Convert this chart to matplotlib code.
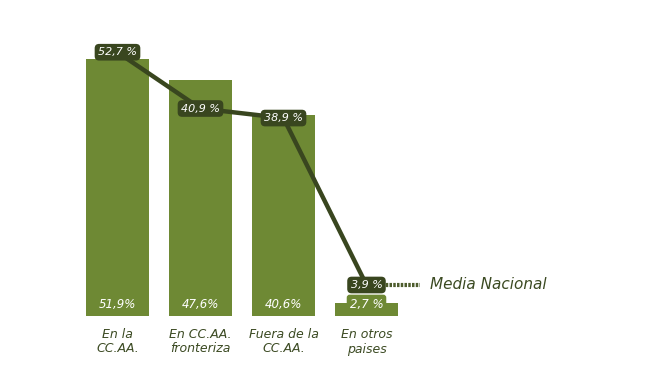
import matplotlib
matplotlib.use("Agg")
import matplotlib.pyplot as plt

categories = ["En la\nCC.AA.", "En CC.AA.\nfronteriza", "Fuera de la\nCC.AA.", "En otros\npaises"]
bar_values = [51.9, 47.6, 40.6, 2.7]
bar_labels = ["51,9%", "47,6%", "40,6%", "2,7 %"]
line_values = [52.7, 40.9, 38.9, 3.9]
line_labels = ["52,7 %", "40,9 %", "38,9 %", "3,9 %"]
line_name = "Media Nacional"

BAR_COLOR = "#6e8934"
DARK = "#39461f"
TEXT = "#3b4a22"

fig = plt.figure(figsize=(6.6, 3.68), dpi=100)
ax = fig.add_axes([0, 0, 1, 1])
px_x = 83.0
px_y = 4.95
xlim = (-117.5 / px_x, (660 - 117.5) / px_x)
ax.set_xlim(*xlim)
ax.set_ylim(-52 / px_y, (368 - 52) / px_y)
ax.axis("off")

# the average line sits on its own scale, slightly raised above the bars
ax2 = fig.add_axes([0, 0, 1, 1], sharex=ax)
line_px = 4.77
line_base = 64.4
ax2.set_ylim(-line_base / line_px, (368 - line_base) / line_px)
ax2.axis("off")
ax2.patch.set_visible(False)

x = list(range(len(categories)))
ax.bar(x, bar_values, width=0.76, color=BAR_COLOR, zorder=1)

# bar value labels at the bottom of each bar
for xi, lab in zip(x, bar_labels):
    ax.text(xi, 2.4, lab, ha="center", va="center", fontsize=8.5, style="italic",
            color="white", zorder=5,
            bbox=dict(boxstyle="round,pad=0.25", fc=BAR_COLOR, ec="none"))

# national average line
ax2.plot(x, line_values, color=DARK, linewidth=3.2, zorder=3, solid_capstyle="round")
tail_end = (420 - 117.5) / px_x
ax2.plot([x[-1], tail_end], [line_values[-1], line_values[-1]], color="#4d5c2c",
         linewidth=3.0, zorder=2, linestyle=(0, (0.6, 0.3)))
ax2.text((430 - 117.5) / px_x, line_values[-1], line_name, ha="left", va="center",
         fontsize=11, style="italic", color=TEXT)

for xi, v, lab in zip(x, line_values, line_labels):
    ax2.text(xi, v, lab, ha="center", va="center", fontsize=8, style="italic",
             color="white", zorder=6,
             bbox=dict(boxstyle="round,pad=0.3,rounding_size=0.4", fc=DARK, ec="none"))

# category labels
for xi, cat in zip(x, categories):
    ax.text(xi, -26 / px_y, cat, ha="center", va="center", fontsize=9,
            style="italic", color=TEXT, linespacing=1.1)

fig.savefig("out.png", dpi=100)
